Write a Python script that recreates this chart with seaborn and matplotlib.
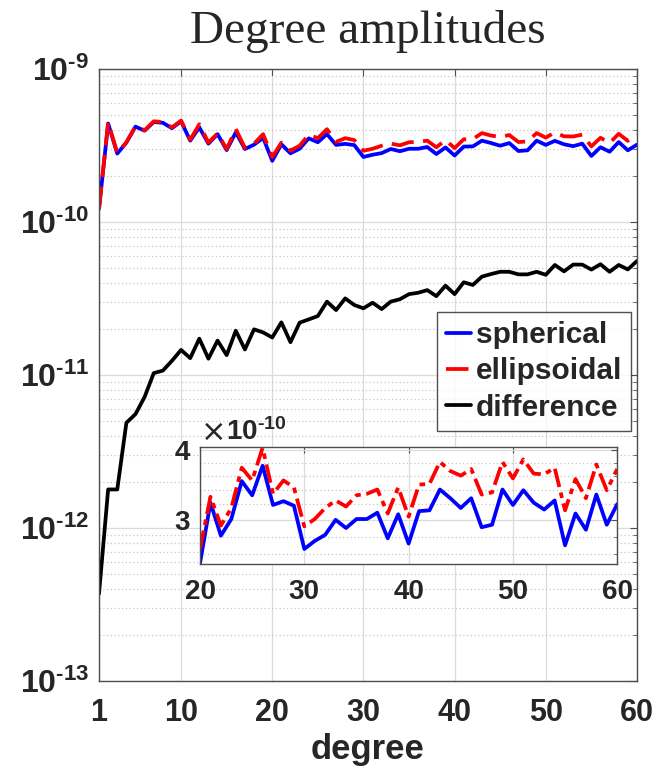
import matplotlib
matplotlib.use('Agg')
import matplotlib.pyplot as plt
import matplotlib.ticker as mticker
import pandas as pd
import seaborn as sns

# degree amplitudes
degrees = list(range(1, 61))
# x 1e-10
spherical = [1.22, 4.40, 2.80, 3.30, 4.20, 3.95, 4.50, 4.45, 4.10, 4.55,
             3.40, 4.15, 3.25, 3.75, 2.95, 3.85, 3.00, 3.20, 3.55, 2.51,
             3.22, 2.81, 3.01, 3.52, 3.32, 3.75, 3.19, 3.24, 3.18, 2.66,
             2.75, 2.82, 3.00, 2.90, 3.01, 3.01, 3.09, 2.78, 3.07, 2.72,
             3.11, 3.12, 3.40, 3.28, 3.15, 3.28, 2.91, 2.94, 3.40, 3.19,
             3.39, 3.22, 3.13, 3.25, 2.70, 3.08, 2.88, 3.33, 2.94, 3.20]
ellipsoidal = [1.22, 4.50, 2.82, 3.32, 4.22, 3.98, 4.55, 4.50, 4.15, 4.60,
               3.45, 4.35, 3.30, 3.80, 3.00, 4.05, 3.05, 3.25, 3.75, 2.66,
               3.30, 2.93, 3.15, 3.72, 3.53, 4.04, 3.34, 3.53, 3.43, 2.92,
               3.01, 3.15, 3.25, 3.17, 3.32, 3.34, 3.40, 3.08, 3.43, 3.04,
               3.47, 3.48, 3.81, 3.67, 3.60, 3.70, 3.33, 3.36, 3.81, 3.56,
               3.85, 3.63, 3.62, 3.72, 3.12, 3.55, 3.28, 3.77, 3.39, 3.70]
# x 1e-11
difference = [0.0374, 0.179, 0.179, 0.488, 0.556, 0.72, 1.03, 1.07, 1.24, 1.46,
              1.29, 1.73, 1.28, 1.68, 1.35, 1.95, 1.47, 1.99, 1.90, 1.76,
              2.21, 1.64, 2.20, 2.31, 2.43, 3.02, 2.66, 3.17, 2.87, 2.73,
              2.97, 2.70, 3.02, 3.13, 3.38, 3.45, 3.59, 3.28, 3.84, 3.38,
              4.04, 3.88, 4.40, 4.57, 4.73, 4.73, 4.55, 4.55, 4.73, 4.52,
              5.24, 4.76, 5.27, 5.27, 4.89, 5.30, 4.73, 5.24, 4.90, 5.56]

x_ticks = [1, 10, 20, 30, 40, 50, 60]
y_ticks = [1e-13, 1e-12, 1e-11, 1e-10, 1e-9]
y_exponents = ['13', '12', '11', '10', '9']
inset_x_ticks = [20, 30, 40, 50, 60]
inset_y_ticks = [3e-10, 4e-10]
inset_y_tick_labels = ['3', '4']
inset_start = 20

HYPHEN = '\u2010'
y_tick_labels = [r'$\mathbf{10^{' + HYPHEN + e + '}}$' for e in y_exponents]

df = pd.DataFrame({
    'degree': degrees,
    'spherical': [v * 1e-10 for v in spherical],
    'ellipsoidal': [v * 1e-10 for v in ellipsoidal],
    'difference': [v * 1e-11 for v in difference],
})
df_inset = df[df['degree'] >= inset_start]

sns.set_style('white')
plt.rcParams['font.family'] = ['Liberation Sans', 'DejaVu Sans']
plt.rcParams['font.weight'] = 'bold'
plt.rcParams['mathtext.fontset'] = 'custom'
plt.rcParams['mathtext.rm'] = 'Liberation Sans'
plt.rcParams['mathtext.bf'] = 'Liberation Sans:bold'

fig = plt.figure(figsize=(6.58, 7.79), dpi=100)
ax = fig.add_axes([0.1505, 0.1255, 0.8175, 0.786])

lw = 2.7
sns.lineplot(data=df, x='degree', y='spherical', color='blue', lw=lw, label='spherical', ax=ax)
sns.lineplot(data=df, x='degree', y='ellipsoidal', color='red', lw=lw, label='ellipsoidal', ax=ax)
ax.lines[-1].set_dashes([6, 2.5])
sns.lineplot(data=df, x='degree', y='difference', color='black', lw=lw, label='difference', ax=ax)

ax.set_yscale('log')
ax.set_xlim(1, 60)
ax.set_ylim(1e-13, 1e-9)
ax.set_xticks(x_ticks)
ax.set_xticklabels([str(t) for t in x_ticks])
ax.set_yticks(y_ticks)
ax.set_yticklabels(y_tick_labels)
ax.yaxis.set_minor_locator(mticker.LogLocator(base=10, subs=range(2, 10)))
ax.yaxis.set_minor_formatter(mticker.NullFormatter())
ax.grid(True, which='major', color='0.86', lw=0.9, ls='-')
ax.grid(True, which='minor', axis='y', color='0.78', lw=0.9, ls=(0, (1, 2)))
ax.tick_params(which='both', direction='in', top=True, right=True, color='0.3')
ax.tick_params(which='major', length=5)
ax.tick_params(which='minor', length=3)
ax.tick_params(axis='x', which='major', labelsize=22, pad=12)
ax.tick_params(axis='y', which='major', labelsize=23, pad=7)
for lab in ax.get_xticklabels():
    lab.set_fontweight('bold')
for s in ax.spines.values():
    s.set_color('0.3')
    s.set_linewidth(1.0)
ax.set_xlabel('degree', fontsize=25, fontweight='bold', labelpad=4)
ax.set_ylabel('')
ax.set_title('Degree amplitudes', fontsize=34, fontfamily='Liberation Serif',
             fontweight='normal', pad=19)

leg = ax.legend(loc='upper right', bbox_to_anchor=(0.989, 0.603), fontsize=21.5,
                handlelength=0.85, handletextpad=0.15, labelspacing=0.28,
                borderpad=0.3, borderaxespad=0, frameon=True, fancybox=False)
leg.get_frame().set_edgecolor('0.15')
leg.get_frame().set_linewidth(1.0)
for t in leg.get_texts():
    t.set_fontweight('bold')

# inset
ins = fig.add_axes([0.304, 0.276, 0.634, 0.150])
sns.lineplot(data=df_inset, x='degree', y='spherical', color='blue', lw=lw, ax=ins)
sns.lineplot(data=df_inset, x='degree', y='ellipsoidal', color='red', lw=lw, ax=ins)
ins.lines[-1].set_linestyle((0, (5, 1.5, 1.5, 1.5)))
ins.set_yscale('log')
ins.set_xlim(20, 60)
ins.set_ylim(2.5e-10, 4.05e-10)
ins.set_xticks(inset_x_ticks)
ins.set_xticklabels([str(t) for t in inset_x_ticks])
ins.set_yticks(inset_y_ticks)
ins.set_yticklabels(inset_y_tick_labels)
ins.yaxis.set_minor_locator(mticker.FixedLocator([2.6e-10, 2.8e-10, 3.2e-10, 3.4e-10,
                                                  3.6e-10, 3.8e-10]))
ins.yaxis.set_minor_formatter(mticker.NullFormatter())
ins.grid(True, which='major', color='0.86', lw=0.9, ls='-')
ins.grid(True, which='minor', axis='y', color='0.78', lw=0.9, ls=(0, (1, 2)))
ins.tick_params(which='both', direction='in', top=True, right=True, color='0.3')
ins.tick_params(which='major', length=4, labelsize=20)
ins.tick_params(which='minor', length=2)
ins.tick_params(axis='x', pad=11)
ins.tick_params(axis='y', pad=7)
for lab in ins.get_xticklabels() + ins.get_yticklabels():
    lab.set_fontweight('bold')
for s in ins.spines.values():
    s.set_color('0.3')
    s.set_linewidth(1.0)
ins.set_xlabel('')
ins.set_ylabel('')
ins.text(0.003, 1.0, '\u00d7', transform=ins.transAxes, fontsize=22,
         fontfamily='DejaVu Sans', fontweight='normal',
         ha='left', va='bottom', color='0.15')
ins.text(0.062, 1.01, r'$\mathbf{10^{' + HYPHEN + '10}}$', transform=ins.transAxes,
         fontsize=20, ha='left', va='bottom', color='0.15')

fig.savefig('out.png', dpi=100)
